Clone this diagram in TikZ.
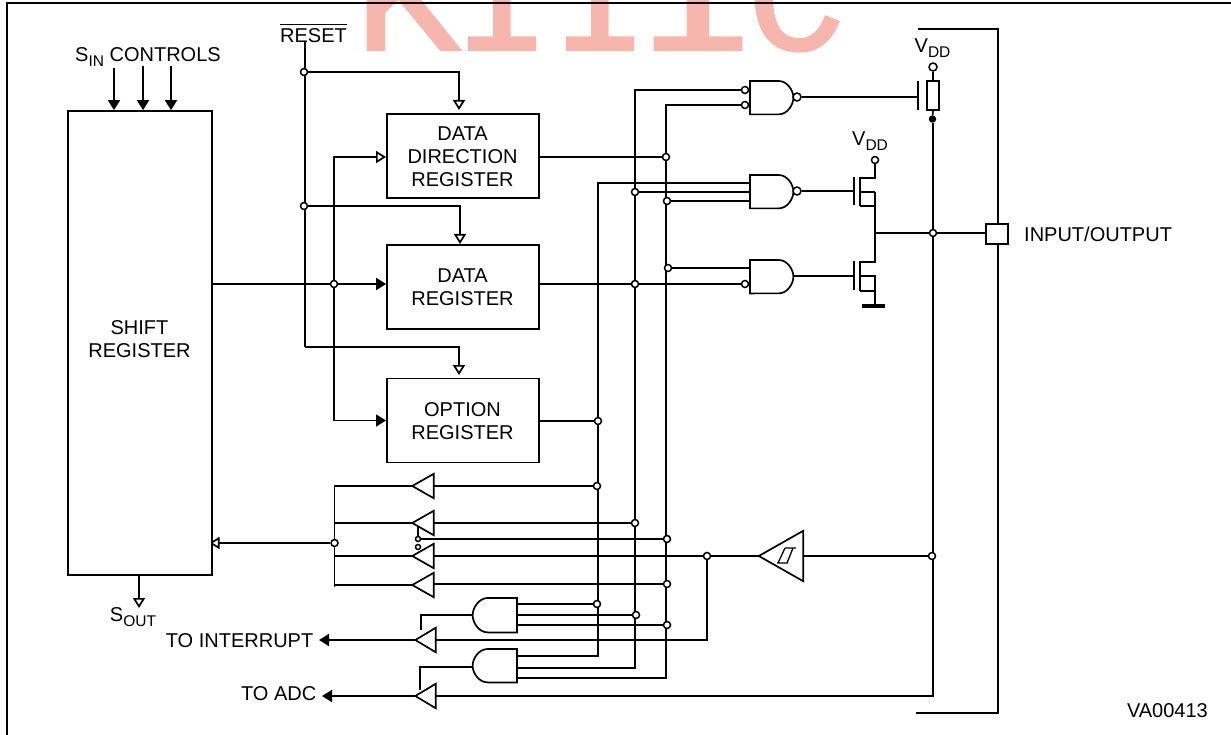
\documentclass[tikz,border=0pt]{standalone}
\usepackage{fontspec}
\setmainfont{Liberation Sans}
\newfontfamily\wmfont[FakeBold=1.2]{Liberation Mono}
\usetikzlibrary{arrows.meta,calc}
\pgfdeclarelayer{wires}\pgfdeclarelayer{mark}
\pgfsetlayers{mark,wires,main}
\definecolor{wmcol}{HTML}{F6B5AD}
\newcommand{\sbs}[1]{\raisebox{-0.28em}{\fontsize{15.5}{15.5}\selectfont #1}}
\tikzset{
 lw/.style={line width=1.7pt,line cap=butt},
 wire/.style={lw,line join=miter},
 inwire/.style={wire,-{Triangle[length=10pt,width=12pt]}},
 opwire/.style={wire,-{Triangle[open,length=10pt,width=12pt,line width=1.7pt]}},
 reg/.style={draw,lw,fill=white,inner sep=0,minimum width=152pt,minimum height=84pt,align=center,font=\fontsize{20}{23}\selectfont},
 lab/.style={inner sep=0,font=\fontsize{20}{23}\selectfont,align=center},
 jn/.style={circle,draw,fill=white,line width=1.5pt,inner sep=0,minimum size=7pt},
 jns/.style={jn,minimum size=5pt},
 bub/.style={jn,minimum size=8pt},
 wmark/.style={inner sep=0,text=wmcol,anchor=base,font=\wmfont\fontsize{165}{165}\selectfont},
}
\newcommand{\bufl}[5]{%
 \node[inner sep=0,minimum width=#4pt,minimum height=#5pt] (#1) at (#2,#3) {};
 \draw[lw,line join=miter] (#1.west)--(#1.north east)--(#1.south east)--cycle;}
\newcommand{\gater}[5]{%
 \node[anchor=north west,inner sep=0,minimum width=#4pt,minimum height=#5pt] (#1) at (#2,#3) {};
 \draw[lw,line join=miter] (#1.north west)--($(#1.north west)!.66!(#1.north east)$)
  .. controls ($(#1.north east)+(-6pt,0)$) and ($(#1.east)+(0,7pt)$) .. (#1.east)
  .. controls ($(#1.east)+(0,-7pt)$) and ($(#1.south east)+(-6pt,0)$) .. ($(#1.south west)!.66!(#1.south east)$)
  --(#1.south west)--cycle;}
\newcommand{\gatel}[5]{%
 \node[anchor=north east,inner sep=0,minimum width=#4pt,minimum height=#5pt] (#1) at (#2,#3) {};
 \draw[lw,line join=miter] (#1.north east)--($(#1.north east)!.66!(#1.north west)$)
  .. controls ($(#1.north west)+(6pt,0)$) and ($(#1.west)+(0,7pt)$) .. (#1.west)
  .. controls ($(#1.west)+(0,-7pt)$) and ($(#1.south west)+(6pt,0)$) .. ($(#1.south east)!.66!(#1.south west)$)
  --(#1.south east)--cycle;}
\begin{document}
\begin{tikzpicture}[x=1pt,y=-1pt]
\useasboundingbox (0,0) rectangle (1231,735);
\begin{pgfonlayer}{mark}
\begin{scope}
\clip (0,0) rectangle (1231,735);
\node[wmark,xscale=1.08] (w1) at (407,50) {K};
\node[wmark] (w2) at (502,50) {I};
\node[wmark] (w3) at (600,50) {I};
\node[wmark,xscale=1.3] (w4) at (698,50) {I};
\node[wmark] (w5) at (796,50) {C};
\end{scope}
\end{pgfonlayer}

% frame
\coordinate (f0) at (1231,3); \coordinate (f1) at (7,3); \coordinate (f2) at (7,735);
\draw[wire] (f0)--(f1)--(f2);

% registers
\node[reg,minimum width=144pt,minimum height=464pt] (sr) at (140,343) {};
\node[lab] (srt) at (139.5,339.5) {SHIFT\\REGISTER};
\node[reg] (ddr) at (463,156) {};
\node[lab] (ddrt) at (462.5,157) {DATA\\DIRECTION\\REGISTER};
\node[reg] (dr)  at (463,287) {};
\node[lab] (drt) at (462.5,287.5) {DATA\\REGISTER};
\node[reg] (opt) at (463,420.5) {};
\node[lab] (optt) at (462.5,421.5) {OPTION\\REGISTER};

% texts
\node[lab,anchor=west] (sin) at (75,57) {S\sbs{IN} CONTROLS};
\node[lab] (rst) at (313.5,36) {RESET};
\node[lab] (sout) at (133,617) {S\sbs{OUT}};
\node[lab,anchor=east] (tint) at (313.5,641) {TO INTERRUPT};
\node[lab,anchor=east] (tadc) at (316.5,694) {TO ADC};
\node[lab,anchor=west] (io) at (1024,234.5) {INPUT/OUTPUT};
\node[lab,anchor=east] (va) at (1208,711) {VA00413};
\node[lab,anchor=west] (vdd1) at (914.5,48) {V\sbs{DD}};
\node[lab,anchor=west] (vdd2) at (852,141) {V\sbs{DD}};
\draw[lw] (280,24.5) -- (347,24.5);

% gates
\gater{n1}{750}{81}{43}{33}
\gater{n2}{750}{175}{43}{33}
\gater{n3}{750}{260}{43}{33}
\gatel{a1}{517}{598}{44}{34}
\gatel{a2}{517}{649}{44}{33}
\node[bub] (n1o) at (797,97) {};
\node[bub] (n2o) at (797,191) {};
\node[jn] (n1a) at (745,90) {};
\node[jn] (n1b) at (745,105) {};
\node[jn] (n3b) at (745,284) {};

% buffers
\bufl{b1}{423}{486}{21}{24}
\bufl{b2}{423}{523}{21}{24}
\bufl{b3}{423}{556}{21}{24}
\bufl{b4}{423}{585}{21}{24}
\bufl{b5}{425.5}{640}{20}{24}
\bufl{b6}{425.5}{696}{20}{24}
\node[inner sep=0,minimum width=44pt,minimum height=50pt] (st) at (781,556) {};
\draw[lw,line join=miter] (st.west)--(st.north east)--(st.south east)--cycle;
\draw[line width=1.3pt] (785,548)--(796,548) (785,548)--(778,563) (777,563)--(788,563) (793,548)--(787,563);

% I/O pad
\node[draw,lw,inner sep=0,minimum width=22pt,minimum height=20pt,fill=white] (pad) at (997,234) {};

% junctions
\node[jn] (jr1) at (304,72) {};
\node[jn] (jr2) at (304,206) {};
\node[jn] (jd) at (334,284) {};
\node[jn] (jddr) at (666,157) {};
\node[jn] (j635a) at (635,192) {};
\node[jn] (j666a) at (667,201) {};
\node[jn] (j666b) at (668,268) {};
\node[jn] (j635b) at (635,284) {};
\node[jn] (jopt) at (598,421) {};
\node[jn] (jb1) at (597,486) {};
\node[jn] (jb2) at (635,523) {};
\node[jn] (jb3) at (667,539) {};
\node[jn] (jb4) at (667,584) {};
\node[jn] (ja1) at (597,604) {};
\node[jn] (ja2) at (636,615) {};
\node[jn] (ja3) at (667,625) {};
\node[jn] (js) at (707,556) {};
\node[jn] (jio) at (933,233) {};
\node[jn] (jst) at (932,556) {};
\node[jn] (jbb) at (334.5,543) {};
\node[jns] (je1) at (418,539) {};
\node[jns] (je2) at (418,547) {};
\node[bub] (vc1) at (933,67) {};
\node[jn] (vc2) at (875,160) {};
\node[circle,fill=black,inner sep=0,minimum size=7.5pt] (dot) at (932.5,119) {};

% named points
\coordinate (rtop) at (305,42);
\coordinate (rbot) at (305,347);
\coordinate (p1) at (918,97);
\coordinate (p2) at (854,191);
\coordinate (p3) at (854,276);
\coordinate (s1) at (114,68); \coordinate (s2) at (143,66); \coordinate (s3) at (171,66);
\coordinate (sot) at (139,608);
\coordinate (dt) at (334,157);
\coordinate (ot) at (334,420.5);
\coordinate (mid) at (875,233);
\coordinate (gnd) at (875,306);
\coordinate (fa) at (918,29); \coordinate (fb) at (998,29);
\coordinate (fc) at (998,713); \coordinate (fd) at (916,713);
\coordinate (bt) at (334.5,486);
\coordinate (bb) at (334.5,587);
\coordinate (x635t) at (635,91);
\coordinate (x635b) at (635,668);
\coordinate (x666t) at (666,105);
\coordinate (x666b) at (666,678);
\coordinate (x598t) at (598,183);
\coordinate (x598b) at (598,656);
\coordinate (a1k) at (421,615);
\coordinate (a1p) at (421,630);
\coordinate (a2k) at (420,667);
\coordinate (a2p) at (420,690);
\coordinate (tp1) at (459,110);
\coordinate (tp2) at (460,244);
\coordinate (tp3) at (459,375);
\coordinate (ddri) at (386,157);
\coordinate (opti) at (386,420.5);
\coordinate (sri) at (209.5,543);
\coordinate (ti) at (319,640);
\coordinate (ta) at (322,696);
\coordinate (vb) at (933,696);
\coordinate (sc) at (707,640);

\begin{pgfonlayer}{wires}
% inputs at top
\draw[inwire] (s1)--(s1|-sr.north);
\draw[inwire] (s2)--(s2|-sr.north);
\draw[inwire] (s3)--(s3|-sr.north);
\draw[opwire] (sr.south-|sot)--(sot);
% reset
\draw[wire] (rtop)--(rbot);
\draw[opwire] (jr1)-|(tp1);
\draw[opwire] (jr2)-|(tp2);
\draw[opwire] (rbot)-|(tp3);
% data bus
\draw[wire] (sr.east|-jd)--(jd);
\draw[inwire] (jd)--(dr.west|-jd);
\draw[opwire] (jd)|-(ddri);
\draw[inwire] (jd)|-(opti);
% vertical buses
\draw[wire] (ddr.east|-jddr)--(jddr);
\draw[wire] (dr.east|-j635b)--(j635b);
\draw[wire] (opt.east|-jopt)--(jopt);
\draw[wire] (n1a)-|(x635t)--(x635b)--(x635b-|a2.east);
\draw[wire] (n1b)-|(x666t)--(x666b)--(x666b-|a2.east);
\draw[wire] (n2.west|-x598t)--(x598t)--(x598b)--(x598b-|a2.east);
% NAND inputs
\draw[wire] (j635a)--(j635a-|n2.west);
\draw[wire] (j666a)--(j666a-|n2.west);
\draw[wire] (j666b)--(j666b-|n3.west);
\draw[wire] (j635b)--(n3b);
% gate outputs
\draw[wire] (n1o)--(p1);
\draw[wire] (n2o)--(p2);
\draw[wire] (p3-|n3.east)--(p3);
% p-resistor
\draw[wire] (918,81)--(918,110);
\draw[wire,fill=white] (927,81) rectangle (939,110);
\draw[wire] (vc1)--(933,81);
\draw[wire] (933,110)--(dot);
\draw[wire] (dot.south-|vb)--(vb)--(b6.east|-vb);
% transistors
\draw[wire] (854,177)--(854,205.5);
\draw[wire] (860,177)--(860,206.5);
\draw[wire] (vc2)--(875,178)--(860,178);
\draw[wire] (860,192)--(875,192);
\draw[wire] (860,206)--(875,206);
\draw[wire] (875,192)--(875,262)--(860,262);
\draw[wire] (854,261)--(854,290);
\draw[wire] (860,261)--(860,291);
\draw[wire] (860,276)--(875,276)--(gnd);
\draw[wire] (860,291)--(875,291);
\draw[line width=3.2pt] (862,306)--(885,306);
\draw[wire] (mid)--(mid-|pad.west);
\draw[wire] (fa)--(fb)--(pad.north-|fb);
\draw[wire] (pad.south-|fc)--(fc)--(fd);
% output buffers row
\draw[wire] (jb1)--(jb1-|b1.east);
\draw[wire] (jb2)--(jb2-|b2.east);
\draw[wire] (jb3)--(jb3-|je1)--(je1);
\draw[wire] (je1)--(418,527);
\draw[wire] (js)--(js-|b3.east);
\draw[wire] (jb4)--(jb4-|b4.east);
\draw[wire] (b1.west)--(bt)--(bb);
\draw[wire] (b2.west)--(bt|-b2);
\draw[wire] (b3.west)--(bt|-b3);
\draw[wire] (b4.west)--(bb|-b4);
\draw[opwire] (jbb)--(sri);
% AND gates
\draw[wire] (ja1)--(ja1-|a1.east);
\draw[wire] (ja2)--(ja2-|a1.east);
\draw[wire] (ja3)--(ja3-|a1.east);
\draw[wire] (a1k-|a1.west)--(a1k)--(a1p);
\draw[wire] (a2k-|a2.west)--(a2k)--(a2p);
% schmitt
\draw[wire] (jst)--(jst-|st.east);
\draw[wire] (st.west)--(js);
\draw[wire] (js)--(sc)--(sc-|b5.east);
% to interrupt / adc
\draw[inwire] (b5.west)--(ti);
\draw[inwire] (b6.west)--(ta);
\end{pgfonlayer}
\end{tikzpicture}
\end{document}
